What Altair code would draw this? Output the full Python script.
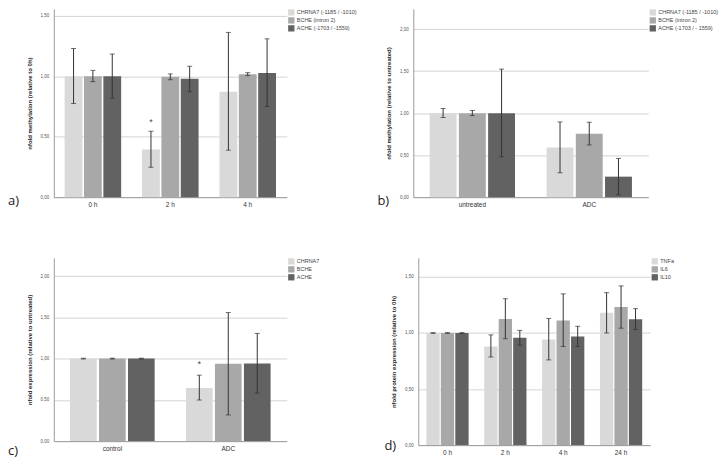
import altair as alt
import pandas as pd

COLORS = ["#d9d9d9", "#a8a8a8", "#626262"]

# ---- panel a ----
a_cats = ["0 h", "2 h", "4 h"]
a_series = ["CHRNA7 (-1185 / -1010)", "BCHE (intron 2)", "ACHE (-1703 / -1559)"]
a_vals = [[1.00, 0.394, 0.872], [1.00, 0.995, 1.016], [1.00, 0.979, 1.027]]
a_lo = [[0.774, 0.247, 0.388], [0.955, 0.971, 1.005], [0.819, 0.872, 0.750]]
a_hi = [[1.229, 0.545, 1.362], [1.048, 1.019, 1.029], [1.183, 1.082, 1.309]]
a_stars = [("2 h", "CHRNA7 (-1185 / -1010)", 0.625)]

# ---- panel b ----
b_cats = ["untreated", "ADC"]
b_series = ["CHRNA7 (-1185 / -1010)", "BCHE (intron 2)", "ACHE (-1703 / - 1559)"]
b_vals = [[1.00, 0.590], [1.00, 0.754], [1.00, 0.244]]
b_lo = [[0.949, 0.290], [0.971, 0.621], [0.480, 0.030]]
b_hi = [[1.055, 0.895], [1.032, 0.891], [1.524, 0.461]]
b_stars = []

# ---- panel c ----
c_cats = ["control", "ADC"]
c_series = ["CHRNA7", "BCHE", "ACHE"]
c_vals = [[1.00, 0.643], [1.00, 0.936], [1.00, 0.940]]
c_lo = [[0.995, 0.498], [0.995, 0.317], [0.995, 0.582]]
c_hi = [[1.005, 0.799], [1.005, 1.558], [1.005, 1.305]]
c_stars = [("ADC", "CHRNA7", 0.93)]

# ---- panel d ----
d_cats = ["0 h", "2 h", "4 h", "24 h"]
d_series = ["TNFa", "IL6", "IL10"]
d_vals = [[1.00, 0.880, 0.943, 1.180], [1.00, 1.126, 1.111, 1.231], [1.00, 0.957, 0.969, 1.123]]
d_lo = [[0.997, 0.786, 0.760, 1.000], [0.997, 0.949, 0.880, 1.043], [0.997, 0.891, 0.880, 1.031]]
d_hi = [[1.003, 0.983, 1.129, 1.360], [1.003, 1.306, 1.349, 1.420], [1.003, 1.023, 1.060, 1.217]]
d_stars = []

FONT = "Liberation Sans"
LABEL_EXPR = "replace(format(datum.value, '.2f'), '.', ',')"


def panel(cats, series, vals, lo, hi, stars, ymax, ticks, w, h, ytitle,
          letter, ldx, ldy):
    rows = []
    for si, s in enumerate(series):
        for ci, c in enumerate(cats):
            rows.append(dict(cat=c, ser=s, v=vals[si][ci], lo=lo[si][ci], hi=hi[si][ci]))
    df = pd.DataFrame(rows)

    x = alt.X("cat:N", sort=cats, title=None,
              scale=alt.Scale(type="band", paddingInner=0.27, paddingOuter=0.14),
              axis=alt.Axis(labelAngle=0, ticks=False, domainColor="#9a9a9a",
                            labelFontSize=6.5, labelColor="#333", labelPadding=4,
                            labelFont=FONT))
    xo = alt.XOffset("ser:N", sort=series,
                     scale=alt.Scale(type="band", paddingInner=0.08, paddingOuter=0))
    yscale = alt.Scale(domain=[0, ymax], nice=False)
    yaxis = alt.Axis(values=ticks, labelExpr=LABEL_EXPR, ticks=False,
                     gridColor="#d4d4d4", domainColor="#9a9a9a", labelFontSize=4.5,
                     labelColor="#555", labelPadding=5, labelFont=FONT,
                     titleFontSize=6, titleFontWeight="bold", titleColor="#222",
                     titleFont=FONT, titlePadding=8)

    def Y(field):
        return alt.Y(field, scale=yscale, axis=yaxis, title=ytitle)

    color = alt.Color("ser:N", sort=series,
                      scale=alt.Scale(domain=series, range=COLORS),
                      legend=alt.Legend(title=None, orient="right", offset=1,
                                        symbolType="square", symbolSize=40,
                                        symbolStrokeWidth=0, labelFontSize=5.5,
                                        labelColor="#444", labelFont=FONT,
                                        rowPadding=1, padding=0, labelOffset=2))

    bars = alt.Chart(df).mark_bar().encode(x=x, xOffset=xo, y=Y("v:Q"), color=color)
    err = alt.Chart(df).mark_rule(color="#333", strokeWidth=1).encode(
        x=x, xOffset=xo, y=Y("lo:Q"), y2="hi:Q")
    cap_lo = alt.Chart(df).mark_tick(color="#333", size=5, thickness=1,
                                     orient="horizontal").encode(
        x=x, xOffset=xo, y=Y("lo:Q"))
    cap_hi = alt.Chart(df).mark_tick(color="#333", size=5, thickness=1,
                                     orient="horizontal").encode(
        x=x, xOffset=xo, y=Y("hi:Q"))
    layers = [bars, err, cap_lo, cap_hi]
    if stars:
        sdf = pd.DataFrame([dict(cat=c, ser=s, v=v) for c, s, v in stars])
        layers.append(alt.Chart(sdf).mark_text(text="*", fontSize=9, color="#444",
                                               font=FONT, baseline="middle").encode(
            x=x, xOffset=xo, y=Y("v:Q")))
    ldf = pd.DataFrame({"t": [letter]})
    layers.append(alt.Chart(ldf).mark_text(fontSize=13, font="Open Sans", color="#222",
                                           align="left", baseline="middle").encode(
        text="t:N", x=alt.value(ldx), y=alt.value(h + ldy)))
    return alt.layer(*layers).properties(width=w, height=h)


pa = panel(a_cats, a_series, a_vals, a_lo, a_hi, a_stars, 1.556, [0, 0.5, 1.0, 1.5],
           234, 189, "nfold methylation (relative to 0h)", "a)", -46, 4)
pb = panel(b_cats, b_series, b_vals, b_lo, b_hi, b_stars, 2.24, [0, 0.5, 1.0, 1.5, 2.0],
           236, 189, "nfold methylation (relative to untreated)", "b)", -36, 4)
pc = panel(c_cats, c_series, c_vals, c_lo, c_hi, c_stars, 2.22, [0, 0.5, 1.0, 1.5, 2.0],
           234, 184, "nfold expression (relative to untreated)", "c)", -46, 10)
pd_ = panel(d_cats, d_series, d_vals, d_lo, d_hi, d_stars, 1.67, [0, 0.5, 1.0, 1.5],
            233, 188, "nfold protein expression (relative to 0h)", "d)", -34, 1)

row1 = alt.hconcat(pa, pb, spacing=20).resolve_scale(color="independent",
                                                      xOffset="independent")
row2 = alt.hconcat(pc, pd_, spacing=65).resolve_scale(color="independent",
                                                       xOffset="independent")

chart = alt.vconcat(row1, row2, spacing=50).resolve_scale(
    color="independent", xOffset="independent").properties(
    padding=0).configure_view(stroke=None)

chart.save("out.html", embed_options={"renderer": "svg", "actions": False})
